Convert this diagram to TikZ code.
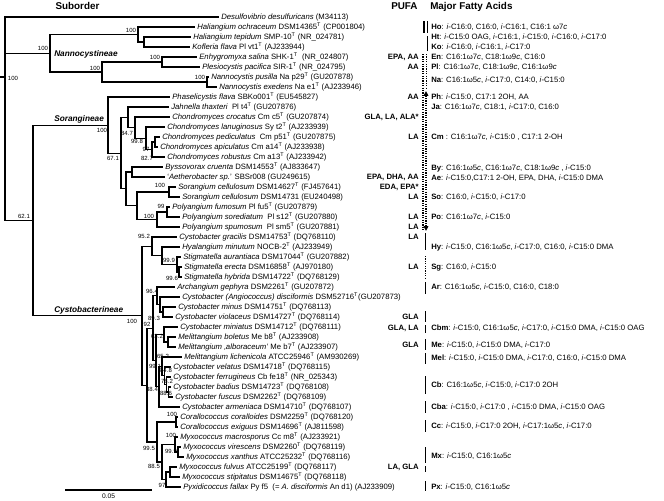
\documentclass[tikz,border=0pt]{standalone}
\usepackage{fontspec}
\setmainfont{Liberation Sans}
\usetikzlibrary{arrows.meta}
\newcommand\typeT{\textsuperscript{T}}
\newcommand\ii{\textit{i}}
\newcommand\clade[2]{\foreach \ch in {#2}{\draw[branch] (#1) |- (\ch);}}
\tikzset{
 branch/.style={line width=0.8pt, black},
 leaflab/.style={anchor=west, inner xsep=1.9pt, inner ysep=0pt, text height=4.15pt, text depth=0pt, font=\fontsize{5.8pt}{7pt}\selectfont},
 boot/.style={inner sep=0pt, text height=3.2pt, text depth=0pt, font=\fontsize{4.5pt}{5pt}\selectfont},
 pufa/.style={anchor=east, inner sep=0pt, text height=4.15pt, text depth=0pt, font=\fontsize{5.8pt}{7pt}\selectfont\bfseries},
 mfa/.style={anchor=west, inner sep=0pt, text height=4.15pt, text depth=0pt, font=\fontsize{5.8pt}{7pt}\selectfont},
 subo/.style={anchor=west, inner sep=0pt, text height=4.45pt, text depth=0pt, font=\fontsize{6.2pt}{7pt}\selectfont\bfseries\itshape},
 hdr/.style={inner sep=0pt, text height=5.3pt, text depth=0pt, font=\fontsize{7.4pt}{8pt}\selectfont\bfseries},
 gbar/.style={line width=1.4pt},
 dbar/.style={line width=1.4pt, dash pattern=on 0.9pt off 0.9pt},
}
\begin{document}
\begin{tikzpicture}[x=0.75pt,y=-0.75pt]
\fill[white] (0,0) rectangle (664,500);
\useasboundingbox (0,0) rectangle (664,500);

% headers
\node[hdr] (hsub) at (77.5,5.5) {Suborder};
\node[hdr,anchor=west] (hpufa) at (391,5.5) {PUFA};
\node[hdr,anchor=west] (hmfa) at (430,5.5) {Major Fatty Acids};

% leaves
\node[leaflab] (l1) at (218.5,17) {\textit{Desulfovibrio desulfuricans} (M34113)};
\node[leaflab] (l2) at (194.5,27) {\textit{Haliangium ochraceum} DSM14365\typeT{} (CP001804)};
\node[leaflab] (l3) at (190.5,37) {\textit{Haliangium tepidum} SMP-10\typeT{} (NR\_024781)};
\node[leaflab] (l4) at (189.5,47) {\textit{Kofleria flava} Pl vt1\typeT{} (AJ233944)};
\node[leaflab] (l5) at (196.5,57) {\textit{Enhygromyxa salina} SHK-1\typeT{}\ \ (NR\_024807)};
\node[leaflab] (l6) at (199.5,67) {\textit{Plesiocystis pacifica} SIR-1\typeT{} (NR\_024795)};
\node[leaflab] (l7) at (208.5,77) {\textit{Nannocystis pusilla} Na p29\typeT{} (GU207878)};
\node[leaflab] (l8) at (216.5,87) {\textit{Nannocystis exedens} Na e1\typeT{} (AJ233946)};
\node[leaflab] (l9) at (169.5,97) {\textit{Phaselicystis flava} SBKo001\typeT{} (EU545827)};
\node[leaflab] (l10) at (168.5,107) {\textit{Jahnella thaxteri}\ \ Pl t4\typeT{} (GU207876)};
\node[leaflab] (l11) at (169.5,117) {\textit{Chondromyces crocatus} Cm c5\typeT{} (GU207874)};
\node[leaflab] (l12) at (164.5,127) {\textit{Chondromyces lanuginosus} Sy t2\typeT{} (AJ233939)};
\node[leaflab] (l13) at (159.5,137) {\textit{Chondromyces pediculatus}\ \ Cm p51\typeT{} (GU207875)};
\node[leaflab] (l14) at (157.5,147) {\textit{Chondromyces apiculatus} Cm a14\typeT{} (AJ233938)};
\node[leaflab] (l15) at (164.5,157) {\textit{Chondromyces robustus} Cm a13\typeT{} (AJ233942)};
\node[leaflab] (l16) at (162.5,167) {\textit{Byssovorax cruenta} DSM14553\typeT{} (AJ833647)};
\node[leaflab] (l17) at (164.5,177) {`\textit{Aetherobacter sp.}' SBSr008 (GU249615)};
\node[leaflab] (l18) at (175.5,187) {\textit{Sorangium cellulosum} DSM14627\typeT{} (FJ457641)};
\node[leaflab] (l19) at (179.5,197) {\textit{Sorangium cellulosum} DSM14731 (EU240498)};
\node[leaflab] (l20) at (169.5,207) {\textit{Polyangium fumosum} Pl fu5\typeT{} (GU207879)};
\node[leaflab] (l21) at (179.5,217) {\textit{Polyangium sorediatum}\ \ Pl s12\typeT{} (GU207880)};
\node[leaflab] (l22) at (179.5,227) {\textit{Polyangium spumosum}\ \ Pl sm5\typeT{} (GU207881)};
\node[leaflab] (l23) at (176.5,237) {\textit{Cystobacter gracilis} DSM14753\typeT{} (DQ768110)};
\node[leaflab] (l24) at (179.5,247) {\textit{Hyalangium minutum} NOCB-2\typeT{} (AJ233949)};
\node[leaflab] (l25) at (180.5,257) {\textit{Stigmatella aurantiaca} DSM17044\typeT{} (GU207882)};
\node[leaflab] (l26) at (181.5,267) {\textit{Stigmatella erecta} DSM16858\typeT{} (AJ970180)};
\node[leaflab] (l27) at (181.5,277) {\textit{Stigmatella hybrida} DSM14722\typeT{} (DQ768129)};
\node[leaflab] (l28) at (174.5,287) {\textit{Archangium gephyra} DSM2261\typeT{} (GU207872)};
\node[leaflab] (l29) at (179.5,297) {\textit{Cystobacter (Angiococcus) disciformis} DSM52716\typeT(GU207873)};
\node[leaflab] (l30) at (175.5,307) {\textit{Cystobacter minus} DSM14751\typeT{} (DQ768113)};
\node[leaflab] (l31) at (172.5,317) {\textit{Cystobacter violaceus} DSM14727\typeT{} (DQ768114)};
\node[leaflab] (l32) at (177.5,327) {\textit{Cystobacter miniatus} DSM14712\typeT{} (DQ768111)};
\node[leaflab] (l33) at (175.5,337) {\textit{Melittangium boletus} Me b8\typeT{} (AJ233908)};
\node[leaflab] (l34) at (175.5,347) {\textit{Melittangium ‚alboraceum'} Me b7\typeT{} (AJ233907)};
\node[leaflab] (l35) at (181.5,357) {\textit{Melittangium lichenicola} ATCC25946\typeT{} (AM930269)};
\node[leaflab] (l36) at (170.5,367) {\textit{Cystobacter velatus} DSM14718\typeT{} (DQ768115)};
\node[leaflab] (l37) at (170.5,377) {\textit{Cystobacter ferrugineus} Cb fe18\typeT{} (NR\_025343)};
\node[leaflab] (l38) at (170.5,387) {\textit{Cystobacter badius} DSM14723\typeT{} (DQ768108)};
\node[leaflab] (l39) at (172.5,397) {\textit{Cystobacter fuscus} DSM2262\typeT{} (DQ768109)};
\node[leaflab] (l40) at (179.5,407) {\textit{Cystobacter armeniaca} DSM14710\typeT{} (DQ768107)};
\node[leaflab] (l41) at (177.5,417) {\textit{Corallococcus coralloides} DSM2259\typeT{} (DQ768120)};
\node[leaflab] (l42) at (177.5,427) {\textit{Corallococcus exiguus} DSM14696\typeT{} (AJ811598)};
\node[leaflab] (l43) at (177.5,437) {\textit{Myxococcus macrosporus} Cc m8\typeT{} (AJ233921)};
\node[leaflab] (l44) at (180.5,447) {\textit{Myxococcus virescens} DSM2260\typeT{} (DQ768119)};
\node[leaflab] (l45) at (183.5,457) {\textit{Myxococcus xanthus} ATCC25232\typeT{} (DQ768116)};
\node[leaflab] (l46) at (176.5,467) {\textit{Myxococcus fulvus} ATCC25199\typeT{} (DQ768117)};
\node[leaflab] (l47) at (179.5,477) {\textit{Myxococcus stipitatus} DSM14675\typeT{} (DQ768118)};
\node[leaflab] (l48) at (180.5,487) {\textit{Pyxidicoccus fallax} Py f5\ \ (= \textit{A. disciformis} An d1) (AJ233909)};

% internal nodes
\coordinate (stub) at (0,77);
\coordinate (R0) at (5,77);
\coordinate (N) at (50,53.25);
\coordinate (A) at (138,34.5);
\coordinate (B) at (144,42);
\coordinate (C) at (102,72);
\coordinate (D) at (162,62);
\coordinate (E) at (207,82);
\coordinate (SC) at (33,220.3);
\coordinate (S) at (108,125.05);
\coordinate (X) at (121,153.1);
\coordinate (Y) at (128,117.3);
\coordinate (Y2) at (135,127.6);
\coordinate (Y3) at (146,138.25);
\coordinate (Y4) at (152,149.5);
\coordinate (Y5) at (155,142);
\coordinate (Z) at (126,188.9);
\coordinate (Z1) at (132,172);
\coordinate (Z2) at (137,205.75);
\coordinate (So12) at (169,192);
\coordinate (Pol) at (157,219.5);
\coordinate (PfPs) at (167,212);
\coordinate (Cy) at (142,315.6);
\coordinate (G1) at (152,246.4);
\coordinate (G1b) at (162,255.75);
\coordinate (Stig) at (177,264.5);
\coordinate (StigB) at (179,272);
\coordinate (R) at (147,385.1);
\coordinate (R1) at (153,328.2);
\coordinate (A1) at (157,295.75);
\coordinate (A1x) at (160,304.5);
\coordinate (A1y) at (163,312);
\coordinate (B1) at (156,360.6);
\coordinate (B1a) at (164,334.5);
\coordinate (MbMa) at (168,342);
\coordinate (B1b) at (159,386.7);
\coordinate (B1c) at (162,366.4);
\coordinate (B1d) at (164.5,375.75);
\coordinate (B1e) at (166.5,384.5);
\coordinate (B1f) at (168.5,392);
\coordinate (R2) at (157,442);
\coordinate (Cor) at (176,422);
\coordinate (Myx) at (162,462);
\coordinate (M1) at (175,444.5);
\coordinate (MvMx) at (178,452);
\coordinate (M2) at (166,479.5);
\coordinate (MfMs) at (170,472);

% branches
\draw[branch] (stub) -- (R0);
\clade{R0}{l1.west,N,SC}
\clade{N}{A,C}
\clade{A}{l2.west,B}
\clade{B}{l3.west,l4.west}
\clade{C}{D,E}
\clade{D}{l5.west,l6.west}
\clade{E}{l7.west,l8.west}
\clade{SC}{S,Cy}
\clade{S}{l9.west,X}
\clade{X}{Y,Z}
\clade{Y}{l10.west,Y2}
\clade{Y2}{l11.west,Y3}
\clade{Y3}{l12.west,Y4}
\clade{Y4}{Y5,l15.west}
\clade{Y5}{l13.west,l14.west}
\clade{Z}{Z1,Z2}
\clade{Z1}{l16.west,l17.west}
\clade{Z2}{So12,Pol}
\clade{So12}{l18.west,l19.west}
\clade{Pol}{PfPs,l22.west}
\clade{PfPs}{l20.west,l21.west}
\clade{Cy}{G1,R}
\clade{G1}{l23.west,G1b}
\clade{G1b}{l24.west,Stig}
\clade{Stig}{l25.west,StigB}
\clade{StigB}{l26.west,l27.west}
\clade{R}{R1,R2}
\clade{R1}{A1,B1}
\clade{A1}{l28.west,A1x}
\clade{A1x}{l29.west,A1y}
\clade{A1y}{l30.west,l31.west}
\clade{B1}{B1a,B1b}
\clade{B1a}{l32.west,MbMa}
\clade{MbMa}{l33.west,l34.west}
\clade{B1b}{B1c,l40.west}
\clade{B1c}{l35.west,B1d}
\clade{B1d}{l36.west,B1e}
\clade{B1e}{l37.west,B1f}
\clade{B1f}{l38.west,l39.west}
\clade{R2}{Cor,Myx}
\clade{Cor}{l41.west,l42.west}
\clade{Myx}{M1,M2}
\clade{M1}{l43.west,MvMx}
\clade{MvMx}{l44.west,l45.west}
\clade{M2}{MfMs,l48.west}
\clade{MfMs}{l46.west,l47.west}

% suborder labels
\node[subo] (nsub1) at (54,53.5) {Nannocystineae};
\node[subo] (nsub2) at (54,118.5) {Sorangineae};
\node[subo] (nsub3) at (54,309.5) {Cystobacterineae};

% bootstrap values
\node[boot] (b1) at (13,78) {100};
\node[boot] (b2) at (43,48) {100};
\node[boot] (b3) at (131,30) {100};
\node[boot] (b4) at (95,68) {100};
\node[boot] (b5) at (155,57) {100};
\node[boot] (b6) at (200,77) {100};
\node[boot] (b7) at (24,216) {62.1};
\node[boot] (b8) at (102,130) {100};
\node[boot] (b9) at (127,133) {84.7};
\node[boot] (b10) at (137,141) {99.8};
\node[boot] (b11) at (146,149) {97};
\node[boot] (b12) at (147,158) {82.7};
\node[boot] (b13) at (113,158) {67.1};
\node[boot] (b14) at (160,185) {100};
\node[boot] (b15) at (161,206) {99};
\node[boot] (b16) at (149,216) {100};
\node[boot] (b17) at (144,236) {95.2};
\node[boot] (b18) at (169,260) {99.9};
\node[boot] (b19) at (172,278) {99.6};
\node[boot] (b20) at (152,291) {96.4};
\node[boot] (b21) at (132,321) {100};
\node[boot] (b22) at (147,324) {92};
\node[boot] (b23) at (154,318) {89.3};
\node[boot] (b24) at (157,336) {63.2};
\node[boot] (b25) at (163,356) {65.2};
\node[boot] (b26) at (155,366) {99.1};
\node[boot] (b27) at (166,370) {84.8};
\node[boot] (b28) at (167,381) {78.2};
\node[boot] (b29) at (152,389) {88.4};
\node[boot] (b30) at (166,393) {88.6};
\node[boot] (b31) at (172,414) {100};
\node[boot] (b32) at (171,435) {100};
\node[boot] (b33) at (149,448) {99.5};
\node[boot] (b34) at (171,451) {99.9};
\node[boot] (b35) at (154,466) {88.5};
\node[boot] (b36) at (162,485) {97};

% scale bar
\coordinate (sb1) at (65,490);
\coordinate (sb2) at (152,490);
\draw[line width=1.2pt] (sb1) -- (sb2);
\node[boot, font=\fontsize{5pt}{6pt}\selectfont, text height=3.6pt] (sbl) at (108.5,496.5) {0.05};

% PUFA column
\node[pufa] (p5) at (419,57) {EPA, AA};
\node[pufa] (p6) at (419,67) {AA};
\node[pufa] (p9) at (419,97) {AA};
\node[pufa] (p11) at (419,117) {GLA, LA, ALA*};
\node[pufa] (p13) at (419,137) {LA};
\node[pufa] (p17) at (419,177) {EPA, DHA, AA};
\node[pufa] (p18) at (419,187) {EDA, EPA*};
\node[pufa] (p19) at (419,197) {LA};
\node[pufa] (p21) at (419,217) {LA};
\node[pufa] (p22) at (419,227) {LA};
\node[pufa] (p23) at (419,237) {LA};
\node[pufa] (p26) at (419,267) {LA};
\node[pufa] (p31) at (419,317) {GLA};
\node[pufa] (p32) at (419,328) {GLA, LA};
\node[pufa] (p34) at (419,345) {GLA};
\node[pufa] (p46) at (419,467) {LA, GLA};

% separator bars
\draw[gbar] (424,21) -- (424,33);
\draw[gbar] (427.5,21) -- (427.5,33);
\draw[gbar] (427.5,36) -- (427.5,51);
\draw[dbar] (423,54) -- (423,230);
\draw[dbar] (426.5,54) -- (426.5,89);
\draw[dbar, {Triangle[length=3.6pt,width=3.4pt]}-{Triangle[length=3.6pt,width=3.4pt]}] (426,91) -- (426,231);
\draw[gbar] (425.5,233) -- (425.5,250);
\draw[dbar] (425.5,256) -- (425.5,279);
\draw[gbar] (425.5,282) -- (425.5,294);
\draw[gbar] (425.5,311) -- (425.5,322);
\draw[gbar] (425.5,325) -- (425.5,333);
\draw[gbar] (425.5,339) -- (425.5,350);
\draw[gbar] (425.5,353) -- (425.5,364);
\draw[gbar] (425.5,376) -- (425.5,394);
\draw[gbar] (425.5,401) -- (425.5,413);
\draw[gbar] (425.5,420) -- (425.5,432);
\draw[gbar] (425.5,447) -- (425.5,463);
\draw[gbar] (425.5,466) -- (425.5,472);
\draw[gbar] (425.5,481) -- (425.5,491);

% major fatty acids
\node[mfa] (fHo) at (431,27) {\textbf{Ho}: \ii-C16:0, C16:0, \ii-C16:1, C16:1 ω7\textit{c}};
\node[mfa] (fHt) at (431,37) {\textbf{Ht}: \ii-C15:0 OAG, \ii-C16:1, \ii-C15:0, \ii-C16:0, \ii-C17:0};
\node[mfa] (fKo) at (431,47) {\textbf{Ko}: \ii-C16:0, \ii-C16:1, \ii-C17:0};
\node[mfa] (fEn) at (431,57) {\textbf{En}: C16:1ω7\textit{c}, C18:1ω9\textit{c}, C16:0};
\node[mfa] (fPl) at (431,67) {\textbf{Pl}: C16:1ω7\textit{c}, C18:1ω9\textit{c}, C16:1ω9\textit{c}};
\node[mfa] (fNa) at (431,80) {\textbf{Na}: C16:1ω5\textit{c}, \ii-C17:0, C14:0, \ii-C15:0};
\node[mfa] (fPh) at (431,97) {\textbf{Ph}: \ii-C15:0, C17:1 2OH, AA};
\node[mfa] (fJa) at (431,107) {\textbf{Ja}: C16:1ω7\textit{c}, C18:1, \ii-C17:0, C16:0};
\node[mfa] (fCm) at (431,137) {\textbf{Cm} : C16:1ω7\textit{c}, \ii-C15:0 , C17:1 2-OH};
\node[mfa] (fBy) at (431,168) {\textbf{By}: C16:1ω5\textit{c}, C16:1ω7\textit{c}, C18:1ω9\textit{c} , \ii-C15:0};
\node[mfa] (fAe) at (431,177.5) {\textbf{Ae}: \ii-C15:0,C17:1 2-OH, EPA, DHA, \ii-C15:0 DMA};
\node[mfa] (fSo) at (431,197) {\textbf{So}: C16:0, \ii-C15:0, \ii-C17:0};
\node[mfa] (fPo) at (431,217) {\textbf{Po}: C16:1ω7\textit{c}, \ii-C15:0};
\node[mfa] (fHy) at (431,247) {\textbf{Hy}: \ii-C15:0, C16:1ω5\textit{c}, \ii-C17:0, C16:0, \ii-C15:0 DMA};
\node[mfa] (fSg) at (431,267) {\textbf{Sg}: C16:0, \ii-C15:0};
\node[mfa] (fAr) at (431,287) {\textbf{Ar}: C16:1ω5\textit{c}, \ii-C15:0, C16:0, C18:0};
\node[mfa] (fCbm) at (431,328) {\textbf{Cbm}: \ii-C15:0, C16:1ω5\textit{c}, \ii-C17:0, \ii-C15:0 DMA, \ii-C15:0 OAG};
\node[mfa] (fMe) at (431,345) {\textbf{Me}: \ii-C15:0, \ii-C15:0 DMA, \ii-C17:0};
\node[mfa] (fMel) at (431,358) {\textbf{Mel}: \ii-C15:0, \ii-C15:0 DMA, \ii-C17:0, C16:0, \ii-C15:0 DMA};
\node[mfa] (fCb) at (431,385) {\textbf{Cb}: C16:1ω5\textit{c}, \ii-C15:0, \ii-C17:0 2OH};
\node[mfa] (fCba) at (431,407) {\textbf{Cba}: \ii-C15:0, \ii-C17:0 , \ii-C15:0 DMA, \ii-C15:0 OAG};
\node[mfa] (fCc) at (431,426) {\textbf{Cc}: \ii-C15:0, \ii-C17:0 2OH, \ii-C17:1ω5\textit{c}, \ii-C17:0};
\node[mfa] (fMx) at (431,456) {\textbf{Mx}: \ii-C15:0, C16:1ω5\textit{c}};
\node[mfa] (fPx) at (431,487) {\textbf{Px}: \ii-C15:0, C16:1ω5\textit{c}};
\end{tikzpicture}
\end{document}
